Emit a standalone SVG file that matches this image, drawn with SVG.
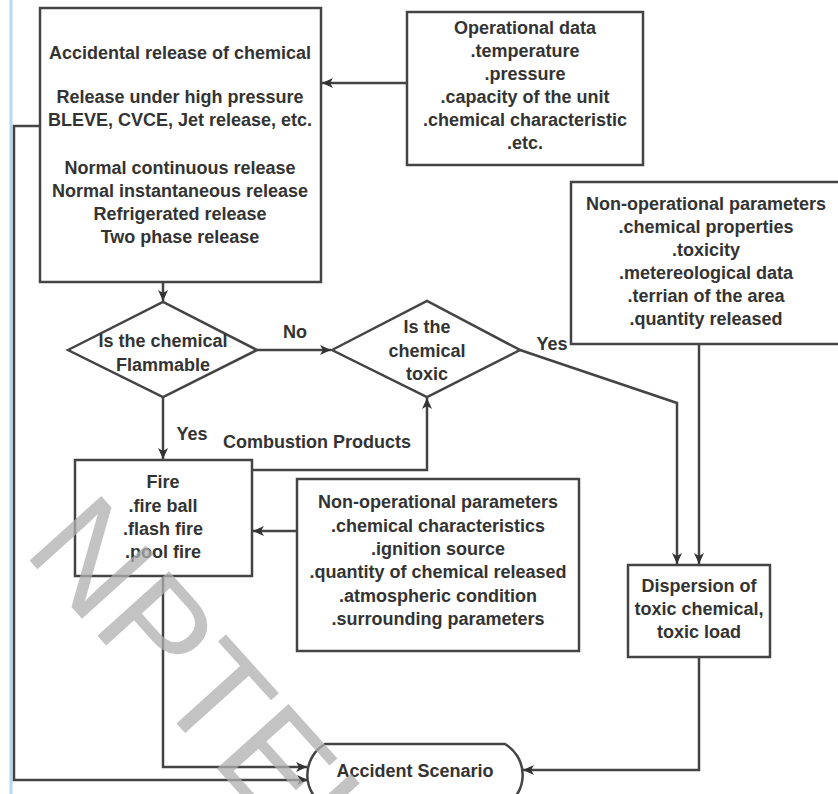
<svg xmlns="http://www.w3.org/2000/svg" width="838" height="794" viewBox="0 0 838 794">
<style>
.box{fill:#fff;stroke:#444;stroke-width:2.5}
.t{font-family:"Liberation Sans",Arial,sans-serif;font-weight:bold;font-size:18px;fill:#333;text-anchor:middle}
.ln{fill:none;stroke:#444;stroke-width:2.5}
.wm{font-family:"Liberation Sans",Arial,sans-serif;font-size:140px;fill:#b0b0b0;opacity:0.75}
</style>
<defs>
<marker id="ah" markerUnits="userSpaceOnUse" markerWidth="12" markerHeight="12" viewBox="0 0 12 12" refX="11" refY="6" orient="auto">
<path d="M0,1 L11,6 L0,11 L3,6 Z" fill="#333"/>
</marker>
</defs>
<rect x="0" y="0" width="838" height="794" fill="#fff"/>
<line x1="11" y1="0" x2="11" y2="794" stroke="#b5d8ee" stroke-width="3"/>

<g id="connectors">
<line class="ln" x1="407" y1="83" x2="322" y2="83" marker-end="url(#ah)"/>
<line class="ln" x1="699" y1="344" x2="699" y2="564" marker-end="url(#ah)"/>
<line class="ln" x1="163" y1="282" x2="163" y2="301" marker-end="url(#ah)"/>
<line class="ln" x1="257" y1="350" x2="331" y2="350" marker-end="url(#ah)"/>
<polyline class="ln" points="520,350 677,403 677,564" marker-end="url(#ah)"/>
<line class="ln" x1="163" y1="397" x2="163" y2="459" marker-end="url(#ah)"/>
<polyline class="ln" points="252,470 427,470 427,398" marker-end="url(#ah)"/>
<line class="ln" x1="297" y1="531" x2="253" y2="531" marker-end="url(#ah)"/>
<polyline class="ln" points="163,576 163,767 307,767" marker-end="url(#ah)"/>
<polyline class="ln" points="40,126 14,126 14,780 308,780" marker-end="url(#ah)"/>
<polyline class="ln" points="699,657 699,770 523,770" marker-end="url(#ah)"/>
<text class="t" x="295" y="338">No</text>
<text class="t" x="552" y="350">Yes</text>
<text class="t" x="192" y="440">Yes</text>
<text class="t" x="223" y="448" style="text-anchor:start">Combustion Products</text>
</g>

<g id="release">
<rect class="box" x="40" y="8" width="281" height="274"/>
<text class="t" x="180" y="59">Accidental release of chemical</text>
<text class="t" x="180" y="103">Release under high pressure</text>
<text class="t" x="180" y="126">BLEVE, CVCE, Jet release, etc.</text>
<text class="t" x="180" y="174">Normal continuous release</text>
<text class="t" x="180" y="197">Normal instantaneous release</text>
<text class="t" x="180" y="220">Refrigerated release</text>
<text class="t" x="180" y="243">Two phase release</text>
</g>

<g id="operational">
<rect class="box" x="407" y="12" width="236" height="153"/>
<text class="t" x="525" y="34">Operational data</text>
<text class="t" x="525" y="57">.temperature</text>
<text class="t" x="525" y="80">.pressure</text>
<text class="t" x="525" y="103">.capacity of the unit</text>
<text class="t" x="525" y="126">.chemical characteristic</text>
<text class="t" x="525" y="149">.etc.</text>
</g>

<g id="nonop1">
<rect class="box" x="571" y="182" width="280" height="162"/>
<text class="t" x="706" y="210">Non-operational parameters</text>
<text class="t" x="706" y="233">.chemical properties</text>
<text class="t" x="706" y="256">.toxicity</text>
<text class="t" x="706" y="279">.metereological data</text>
<text class="t" x="706" y="302">.terrian of the area</text>
<text class="t" x="706" y="325">.quantity released</text>
</g>

<g id="flammable">
<polygon class="box" points="68,350 163,302 257,350 163,397"/>
<text class="t" x="163" y="347">Is the chemical</text>
<text class="t" x="163" y="371">Flammable</text>
</g>

<g id="toxic">
<polygon class="box" points="332,350 427,301 520,350 427,397"/>
<text class="t" x="427" y="333">Is the</text>
<text class="t" x="427" y="357">chemical</text>
<text class="t" x="427" y="380">toxic</text>
</g>

<g id="fire">
<rect class="box" x="75" y="460" width="177" height="116"/>
<text class="t" x="163" y="488">Fire</text>
<text class="t" x="163" y="512">.fire ball</text>
<text class="t" x="163" y="535">.flash fire</text>
<text class="t" x="163" y="558">.pool fire</text>
</g>

<g id="nonop2">
<rect class="box" x="297" y="479" width="282" height="172"/>
<text class="t" x="438" y="508">Non-operational parameters</text>
<text class="t" x="438" y="532">.chemical characteristics</text>
<text class="t" x="438" y="555">.ignition source</text>
<text class="t" x="438" y="578">.quantity of chemical released</text>
<text class="t" x="438" y="602">.atmospheric condition</text>
<text class="t" x="438" y="625">.surrounding parameters</text>
</g>

<g id="dispersion">
<rect class="box" x="628" y="565" width="142" height="92"/>
<text class="t" x="699" y="592">Dispersion of</text>
<text class="t" x="699" y="615">toxic chemical,</text>
<text class="t" x="699" y="638">toxic load</text>
</g>

<g id="scenario">
<path class="box" d="M325,744 H505 A36,36 0 0 1 505,806 H325 A36,36 0 0 1 325,744 Z"/>
<text class="t" x="415" y="777">Accident Scenario</text>
</g>

<text class="wm" transform="translate(22,552) rotate(48)">NPTEL</text>
</svg>
